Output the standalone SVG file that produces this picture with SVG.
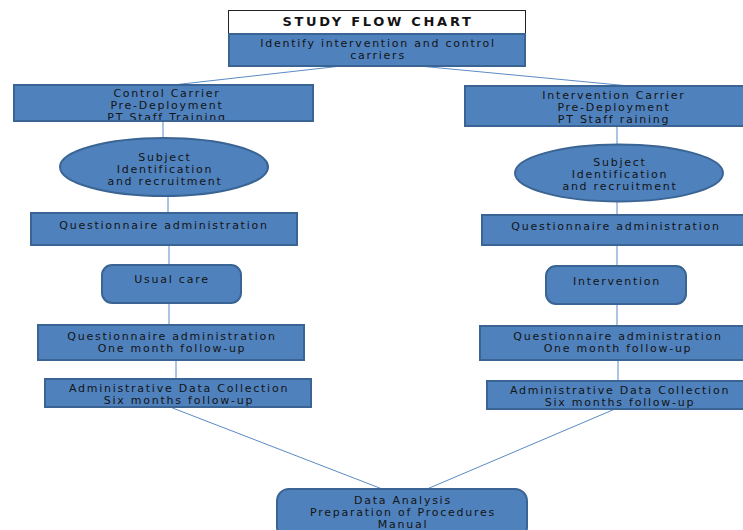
<svg xmlns="http://www.w3.org/2000/svg" width="743" height="530" viewBox="0 0 743 530">
<style>
.box{fill:#4f81bd;stroke:#3a6493;stroke-width:2}
.title{fill:#ffffff;stroke:#222;stroke-width:1}
.ln{stroke:#5b8ac4;stroke-width:1;fill:none}
text{font-family:"DejaVu Sans",sans-serif;font-size:11px;fill:#141414;text-anchor:middle;letter-spacing:1.75px}
.tt{font-weight:bold;font-size:13px;letter-spacing:2.7px}
</style>
<defs>
<clipPath id="clipCC"><rect x="14" y="85" width="299" height="35"/></clipPath>
<clipPath id="clipIC"><rect x="465" y="86" width="280" height="39"/></clipPath>
<clipPath id="clipCA"><rect x="45" y="379" width="266" height="27"/></clipPath>
<clipPath id="clipIA"><rect x="487" y="381" width="258" height="27"/></clipPath>
</defs>
<rect width="743" height="530" fill="#ffffff"/>
<g id="connectors">
<line class="ln" x1="377" y1="62" x2="173" y2="85"/>
<line class="ln" x1="377" y1="62" x2="640" y2="87"/>
<line class="ln" x1="163" y1="121" x2="163" y2="138"/>
<line class="ln" x1="168" y1="196" x2="168" y2="213"/>
<line class="ln" x1="169" y1="245" x2="169" y2="265"/>
<line class="ln" x1="169" y1="303" x2="169" y2="325"/>
<line class="ln" x1="176" y1="360" x2="176" y2="379"/>
<line class="ln" x1="170" y1="407" x2="390" y2="492"/>
<line class="ln" x1="617" y1="126" x2="617" y2="145"/>
<line class="ln" x1="617" y1="202" x2="617" y2="215"/>
<line class="ln" x1="617" y1="245" x2="617" y2="266"/>
<line class="ln" x1="617" y1="304" x2="617" y2="326"/>
<line class="ln" x1="618" y1="360" x2="618" y2="381"/>
<line class="ln" x1="615" y1="409" x2="420" y2="492"/>
</g>
<g id="title">
<rect class="title" x="228.5" y="10.5" width="297" height="23"/>
<text class="tt" x="378" y="26">STUDY FLOW CHART</text>
</g>
<g id="identify">
<rect class="box" x="229" y="34" width="296" height="32"/>
<text x="378" y="47">Identify intervention and control</text>
<text x="378" y="59">carriers</text>
</g>
<g id="control-carrier">
<rect class="box" x="14" y="85" width="299" height="36"/>
<g clip-path="url(#clipCC)">
<text x="167" y="97">Control Carrier</text>
<text x="167" y="109">Pre-Deployment</text>
<text x="167" y="121">PT Staff Training</text>
</g>
</g>
<g id="control-subject">
<ellipse class="box" cx="164" cy="167" rx="104" ry="29"/>
<text x="165" y="161">Subject</text>
<text x="165" y="173">Identification</text>
<text x="165" y="185">and recruitment</text>
</g>
<g id="control-questionnaire">
<rect class="box" x="31" y="213" width="266" height="32"/>
<text x="164" y="229">Questionnaire administration</text>
</g>
<g id="usual-care">
<rect class="box" x="102" y="265" width="139" height="38" rx="10"/>
<text x="172" y="283">Usual care</text>
</g>
<g id="control-followup">
<rect class="box" x="38" y="325" width="266" height="35"/>
<text x="172" y="340">Questionnaire administration</text>
<text x="172" y="352">One month follow-up</text>
</g>
<g id="control-admin">
<rect class="box" x="45" y="379" width="266" height="28"/>
<g clip-path="url(#clipCA)">
<text x="179" y="392">Administrative Data Collection</text>
<text x="179" y="404">Six months follow-up</text>
</g>
</g>
<g id="intervention-carrier">
<rect class="box" x="465" y="86" width="280" height="40"/>
<g clip-path="url(#clipIC)">
<text x="614" y="99">Intervention Carrier</text>
<text x="614" y="111">Pre-Deployment</text>
<text x="614" y="123">PT Staff raining</text>
</g>
</g>
<g id="intervention-subject">
<ellipse class="box" cx="619" cy="173" rx="104" ry="28.5"/>
<text x="620" y="166">Subject</text>
<text x="620" y="178">Identification</text>
<text x="620" y="190">and recruitment</text>
</g>
<g id="intervention-questionnaire">
<rect class="box" x="482" y="215" width="263" height="30"/>
<text x="616" y="230">Questionnaire administration</text>
</g>
<g id="intervention">
<rect class="box" x="546" y="266" width="140" height="38" rx="10"/>
<text x="617" y="285">Intervention</text>
</g>
<g id="intervention-followup">
<rect class="box" x="480" y="326" width="265" height="34"/>
<text x="618" y="340">Questionnaire administration</text>
<text x="618" y="352">One month follow-up</text>
</g>
<g id="intervention-admin">
<rect class="box" x="487" y="381" width="258" height="28"/>
<g clip-path="url(#clipIA)">
<text x="620" y="394">Administrative Data Collection</text>
<text x="620" y="406">Six months follow-up</text>
</g>
</g>
<g id="data-analysis">
<rect class="box" x="277" y="489" width="250" height="50" rx="12"/>
<text x="403" y="504">Data Analysis</text>
<text x="403" y="516">Preparation of Procedures</text>
<text x="403" y="528">Manual</text>
</g>
</svg>
